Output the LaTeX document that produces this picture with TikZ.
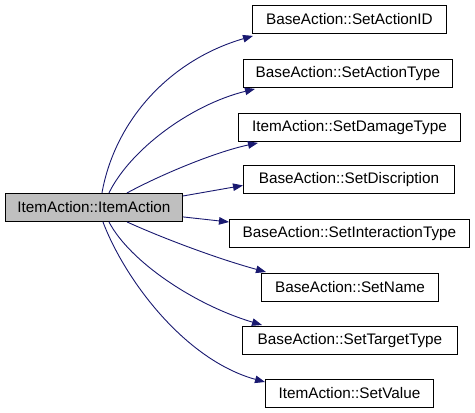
\documentclass[tikz,border=0pt]{standalone}
\usepackage{fontspec}
\setmainfont{Liberation Sans}
\usetikzlibrary{arrows.meta}
\definecolor{edgeblue}{HTML}{191970}
\definecolor{maingray}{HTML}{BFBFBF}
\tikzset{
  fn/.style={draw=black, line width=0.9pt, rectangle, anchor=north west, inner sep=0pt,
    minimum height=28pt, font=\fontsize{15.3pt}{18pt}\selectfont, align=center},
  mainfn/.style={fn, fill=maingray},
  call/.style={draw=edgeblue, line width=0.9pt, -{Triangle[length=10pt,width=7.5pt,fill=edgeblue]}}
}
\begin{document}
\begin{tikzpicture}[x=1pt,y=-1pt]
\useasboundingbox (0,0) rectangle (475,413);
\node[mainfn, minimum width=177pt] (main) at (5,193) {ItemAction::ItemAction};
\node[fn, minimum width=194pt] (a) at (252,5) {BaseAction::SetActionID};
\node[fn, minimum width=209pt] (b) at (243,59) {BaseAction::SetActionType};
\node[fn, minimum width=222pt] (c) at (238,113) {ItemAction::SetDamageType};
\node[fn, minimum width=211pt] (d) at (243,165) {BaseAction::SetDiscription};
\node[fn, minimum width=240pt] (e) at (229,219) {BaseAction::SetInteractionType};
\node[fn, minimum width=177pt] (f) at (261,273) {BaseAction::SetName};
\node[fn, minimum width=215pt] (g) at (242,326) {BaseAction::SetTargetType};
\node[fn, minimum width=168pt] (h) at (265,379) {ItemAction::SetValue};
% start points on main node
\coordinate (s1) at ([xshift=8pt]main.north);
\coordinate (s2) at ([xshift=15pt]main.north);
\coordinate (s3) at ([xshift=33pt]main.north);
\coordinate (s4) at ([yshift=-3pt]main.north east);
\coordinate (s5) at ([yshift=5pt]main.south east);
\coordinate (s6) at ([xshift=33pt]main.south);
\coordinate (s7) at ([xshift=15pt]main.south);
\coordinate (s8) at ([xshift=9pt]main.south);
% end points
\coordinate (t1) at ([xshift=1pt,yshift=-2pt]a.south west);
\coordinate (t2) at ([xshift=12pt,yshift=-1pt]b.south west);
\coordinate (t3) at ([xshift=20pt,yshift=-1pt]c.south west);
\coordinate (t4) at ([yshift=-6pt]d.west);
\coordinate (t5) at ([yshift=-3pt]e.north west);
\coordinate (t6) at ([xshift=5pt,yshift=1pt]f.north west);
\coordinate (t7) at ([xshift=20pt,yshift=1pt]g.north west);
\coordinate (t8) at ([yshift=-3pt]h.north west);
\draw[call] (s1) .. controls (115,120) and (170,60) .. (t1);
\draw[call] (s2) .. controls (130,150) and (190,105) .. (t2);
\draw[call] (s3) .. controls (160,175) and (215,152) .. (t3);
\draw[call] (s4) -- (t4);
\draw[call] (s5) -- (t5);
\draw[call] (s6) .. controls (160,237) and (215,258) .. (t6);
\draw[call] (s7) .. controls (130,262) and (195,305) .. (t7);
\draw[call] (s8) .. controls (125,280) and (185,360) .. (t8);
\end{tikzpicture}
\end{document}
